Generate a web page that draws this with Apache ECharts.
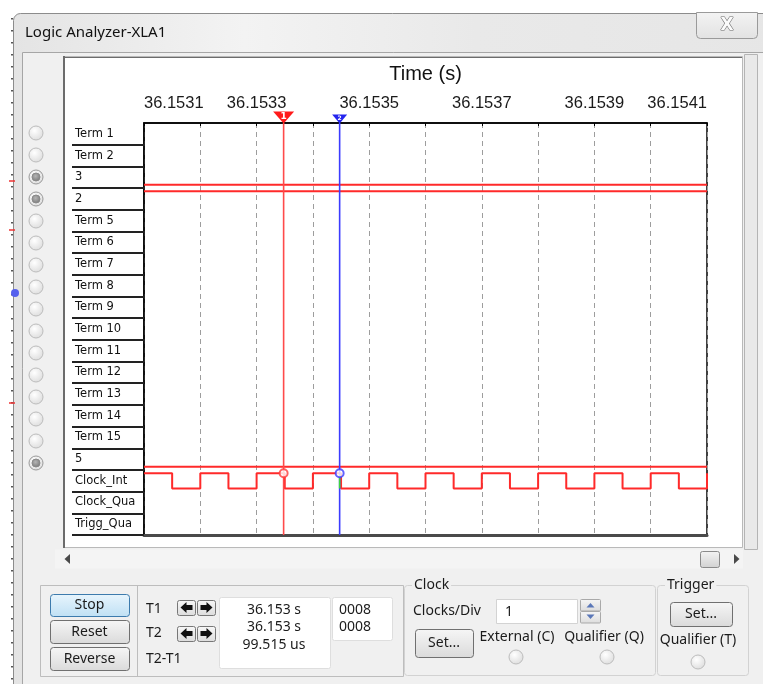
<!DOCTYPE html>
<html>
<head>
<meta charset="utf-8">
<title>Logic Analyzer-XLA1</title>
<script src="https://cdn.jsdelivr.net/npm/echarts@6.0.0/dist/echarts.min.js"></script>
<style>
  html, body { margin: 0; padding: 0; background: #fff; }
  #chart { width: 763px; height: 684px; }
</style>
</head>
<body>
<div id="chart"></div>
<script>
// channel rows, top to bottom
const channels = ['Term 1', 'Term 2', '3', '2', 'Term 5', 'Term 6', 'Term 7', 'Term 8', 'Term 9',
  'Term 10', 'Term 11', 'Term 12', 'Term 13', 'Term 14', 'Term 15', '5', 'Clock_Int', 'Clock_Qua', 'Trigg_Qua'];

// time axis in us after 36.1531 s, one division = 100 us
const timeLabels = ['36.1531', '36.1533', '36.1535', '36.1537', '36.1539', '36.1541'];
const sampleTimes = [0, 50, 100, 150, 200, 250, 300, 350, 400, 450, 500,
  550, 600, 650, 700, 750, 800, 850, 900, 950, 1000];

// logic level at each sample time, held until the next sample
const level3 = [0, 0, 0, 0, 0, 0, 0, 0, 0, 0, 0, 0, 0, 0, 0, 0, 0, 0, 0, 0, 0];
const level2 = [1, 1, 1, 1, 1, 1, 1, 1, 1, 1, 1, 1, 1, 1, 1, 1, 1, 1, 1, 1, 1];
const level5 = [0, 0, 0, 0, 0, 0, 0, 0, 0, 0, 0, 0, 0, 0, 0, 0, 0, 0, 0, 0, 0];
const clockInt = [1, 0, 1, 0, 1, 0, 1, 0, 1, 0, 1, 0, 1, 0, 1, 0, 1, 0, 1, 0, 1];

// cursors (us after 36.1531 s)
const cursorT1 = 248;
const cursorT2 = 347.5;

// readouts
const readTimes = ['36.153 s', '36.153 s', '99.515 us'];
const readHex = ['0008', '0008'];
const clocksPerDiv = '1';

// channel radio buttons (16 of them), true = connected
const radioOn = [false, false, true, true, false, false, false, false, false, false, false, false, false, false, false, true];

const rowOf = name => channels.indexOf(name);
const wave = (name, levels) => levels.map((lv, i) => [sampleTimes[i], rowOf(name) + (lv ? 0.15 : 0.85)]);

const UI = '"Noto Sans", "Open Sans", sans-serif';

function rect(x, y, w, h, fill, stroke, r) {
  return { type: 'rect', silent: true, z: -10, shape: { x, y, width: w, height: h, r: r || 0 },
    style: { fill: fill || 'none', stroke: stroke || 'none', lineWidth: 1 } };
}
function line(x1, y1, x2, y2, color, w, dash) {
  return { type: 'line', silent: true, z: -9, shape: { x1, y1, x2, y2 },
    style: { stroke: color, lineWidth: w || 1, lineDash: dash || null } };
}
function label(x, y, s, opt) {
  const st = Object.assign({ text: s, fill: '#1b1b1b', font: '14px ' + UI,
    align: 'left', verticalAlign: 'middle', textAlign: 'left', textVerticalAlign: 'middle' }, opt || {});
  if (st.align !== 'left') st.textAlign = st.align;
  return { type: 'text', silent: true, z: -5, x, y, style: st };
}
function vgrad(a, b) {
  return { type: 'linear', x: 0, y: 0, x2: 0, y2: 1, colorStops: [{ offset: 0, color: a }, { offset: 1, color: b }] };
}
function button(x, y, w, h, s, blue) {
  const r = rect(x + 0.5, y + 0.5, w, h, blue ? vgrad('#e8f5fd', '#bfe0f4') : vgrad('#f6f6f6', '#dadada'),
    blue ? '#3d7bad' : '#707070', 3);
  return [r, label(x + w / 2, y + h / 2 + 0.5, s, { align: 'center' })];
}
function radio(cx, cy, on) {
  const els = [{ type: 'circle', silent: true, z: -9, shape: { cx, cy, r: 7 },
    style: { fill: { type: 'radial', x: 0.4, y: 0.35, r: 0.75,
      colorStops: [{ offset: 0, color: '#ffffff' }, { offset: 1, color: '#d9d9d9' }] },
      stroke: on ? '#9a9a9a' : '#bcbcbc', lineWidth: 1 } }];
  if (on) {
    els.push({ type: 'circle', silent: true, z: -8, shape: { cx, cy, r: 4 },
      style: { fill: { type: 'radial', x: 0.45, y: 0.4, r: 0.7,
        colorStops: [{ offset: 0, color: '#b5b5b5' }, { offset: 1, color: '#6f6f6f' }] }, stroke: '#8a8a8a' } });
  }
  return els;
}
// dir: -1 points left, 1 points right
function arrowBtn(x, y, dir) {
  const cx = x + 9.5, cy = y + 7.5;
  const s = dir;
  const pts = [[cx + 6 * s, cy], [cx, cy - 5.5], [cx, cy - 2.5], [cx - 6 * s, cy - 2.5],
    [cx - 6 * s, cy + 2.5], [cx, cy + 2.5], [cx, cy + 5.5]];
  return [rect(x + 0.5, y + 0.5, 18, 15, vgrad('#f8f8f8', '#dcdcdc'), '#777', 2),
    { type: 'polygon', silent: true, z: -8, shape: { points: pts }, style: { fill: '#111' } }];
}

const graphics = [];
graphics.push(rect(0, 0, 763, 684, '#fff'));
graphics.push(line(12, 18, 12, 684, '#222', 1.5, [1.5, 10.5]));
// window frame + title bar
graphics.push(Object.assign(rect(13.5, 13.5, 770, 690, {
  type: 'linear', x: 0, y: 0, x2: 1, y2: 0,
  colorStops: [{ offset: 0, color: '#e4e4e4' }, { offset: 0.3, color: '#f3f3f3' }, { offset: 0.6, color: '#e9e9e9' }, { offset: 1, color: '#e6e6e6' }]
}, '#8c8c8c'), { shape: { x: 13.5, y: 13.5, width: 770, height: 690, r: [7, 0, 0, 0] } }));
graphics.push(label(25, 33, 'Logic Analyzer-XLA1', { font: '15px ' + UI, fill: '#111' }));
graphics.push(rect(696.5, 12.5, 61, 26, vgrad('#f3f3f3', '#e2e2e2'), '#9a9a9a', [0, 0, 4, 4]));
graphics.push(label(727, 26, 'X', { align: 'center', font: 'bold 17px "DejaVu Sans"', fill: '#fbfbfb', stroke: '#6a6a6a', lineWidth: 1.1 }));
// client area
graphics.push(rect(22.5, 52.5, 750, 640, '#f0f0f0', '#a6a6a6'));
// waveform panel
graphics.push(rect(63.5, 56.5, 679, 491, '#fff', '#b9b9b9'));
graphics.push(line(64, 56, 64, 548, '#6c6c6c', 2));
graphics.push(line(64, 57.5, 742, 57.5, '#6c6c6c', 1));
graphics.push(rect(744.5, 54.5, 13, 495, '#e9e9e9', '#b4b4b4'));
// horizontal scroll bar
graphics.push(rect(55, 549.5, 688, 19, '#f4f4f4'));
graphics.push({ type: 'polygon', silent: true, z: -8, shape: { points: [[70, 554], [70, 564], [64.5, 559]] }, style: { fill: '#4a4a4a' } });
graphics.push(rect(700.5, 551.5, 19, 16, vgrad('#f4f4f4', '#d2d2d2'), '#8b8b8b', 2));
graphics.push({ type: 'polygon', silent: true, z: -8, shape: { points: [[734, 554], [734, 564], [739.5, 559]] }, style: { fill: '#4a4a4a' } });
// channel radios
radioOn.forEach((on, i) => graphics.push(...radio(36, 133 + i * 22, on)));
// stray schematic marks at the left edge
graphics.push(line(9, 181, 15, 181, '#e33', 1.5), line(9, 230, 15, 230, '#e33', 1.5), line(9, 403, 15, 403, '#e33', 1.5));
graphics.push({ type: 'circle', silent: true, z: -8, shape: { cx: 15, cy: 293, r: 4 }, style: { fill: '#5560ee' } });

// bottom control block: run buttons and cursor readouts
graphics.push(rect(40.5, 585.5, 363, 91, 'none', '#bdbdbd'));
graphics.push(line(137.5, 586, 137.5, 676, '#bdbdbd'));
graphics.push(...button(50, 594, 79, 22, 'Stop', true));
graphics.push(...button(50, 620, 79, 23, 'Reset'));
graphics.push(...button(50, 647, 79, 23, 'Reverse'));
graphics.push(label(146, 609, 'T1'), label(146, 633, 'T2'), label(146, 659, 'T2-T1'));
graphics.push(...arrowBtn(177, 600, -1), ...arrowBtn(197, 600, 1));
graphics.push(...arrowBtn(177, 626, -1), ...arrowBtn(197, 626, 1));
graphics.push(rect(219.5, 597.5, 111, 71, '#fff', '#dedede', 2));
readTimes.forEach((s, i) => graphics.push(label(274, 610 + i * 17.5, s, { align: 'center' })));
graphics.push(rect(332.5, 597.5, 60, 43, '#fff', '#dedede', 2));
readHex.forEach((s, i) => graphics.push(label(339, 610 + i * 17, s)));

// clock group
graphics.push(rect(404.5, 585.5, 251, 90, 'none', '#d2d2d2', 3));
graphics.push(label(412, 585, 'Clock', { backgroundColor: '#f0f0f0', padding: [0, 2] }));
graphics.push(label(413, 611, 'Clocks/Div'));
graphics.push(rect(496.5, 599.5, 81, 24, '#fff', '#d3d3d3'));
graphics.push(label(505, 612, clocksPerDiv));
graphics.push(rect(580.5, 599.5, 20, 11.5, vgrad('#f6f6f6', '#dcdcdc'), '#a9a9a9', 1));
graphics.push(rect(580.5, 611.5, 20, 11.5, vgrad('#f6f6f6', '#dcdcdc'), '#a9a9a9', 1));
graphics.push({ type: 'polygon', silent: true, z: -8, shape: { points: [[586.5, 607.5], [594.5, 607.5], [590.5, 603]] }, style: { fill: '#5a77b8' } });
graphics.push({ type: 'polygon', silent: true, z: -8, shape: { points: [[586.5, 614.5], [594.5, 614.5], [590.5, 619]] }, style: { fill: '#5a77b8' } });
graphics.push(...button(415, 629, 58, 28, 'Set...'));
graphics.push(label(517, 637, 'External (C)', { align: 'center' }), label(604, 637, 'Qualifier (Q)', { align: 'center' }));
graphics.push(...radio(516, 657, false), ...radio(607, 657, false));

// trigger group
graphics.push(rect(657.5, 585.5, 91, 90, 'none', '#d2d2d2', 3));
graphics.push(label(665, 585, 'Trigger', { backgroundColor: '#f0f0f0', padding: [0, 2] }));
graphics.push(...button(670, 602, 62, 24, 'Set...'));
graphics.push(label(698, 640, 'Qualifier (T)', { align: 'center' }));
graphics.push(...radio(698, 662, false));

const sigStyle = { color: '#ff2a2a', width: 2 };
function sigSeries(name, levels) {
  return { name, type: 'line', xAxisIndex: 0, yAxisIndex: 1, step: 'end', symbol: 'none',
    data: wave(name, levels), lineStyle: sigStyle, itemStyle: { color: sigStyle.color }, silent: true, z: 3 };
}
function cursorSeries(t, color) {
  return { type: 'line', xAxisIndex: 0, yAxisIndex: 1, symbol: 'none', silent: true, z: 4,
    data: [[t, 0], [t, channels.length]], lineStyle: { color, width: 1.6 } };
}
// cursor flag drawn above the top axis line
function flagSeries(t, color, num, w, h) {
  return { type: 'custom', xAxisIndex: 0, yAxisIndex: 1, silent: true, z: 6, clip: false,
    data: [[t, 0]],
    renderItem: (params, api) => {
      const p = api.coord([api.value(0), api.value(1)]);
      return { type: 'group', children: [
        { type: 'polygon', shape: { points: [[p[0] - w / 2, p[1] - h - 0.5], [p[0] + w / 2, p[1] - h - 0.5], [p[0], p[1] + 0.5]] },
          style: { fill: color } },
        { type: 'text', style: { text: num, x: p[0], y: p[1] - h * 0.6, fill: '#fff',
          font: 'bold ' + (h - 2) + 'px "DejaVu Sans"', align: 'center', verticalAlign: 'middle',
          textAlign: 'center', textVerticalAlign: 'middle' } }
      ] };
    } };
}
function ringSeries(t, color) {
  return { type: 'scatter', xAxisIndex: 0, yAxisIndex: 1, silent: true, z: 6, clip: false,
    symbol: 'emptyCircle', symbolSize: 8, data: [[t, rowOf('Clock_Int') + 0.15]],
    itemStyle: { color, borderColor: color, borderWidth: 1.4 } };
}

const chart = echarts.init(document.getElementById('chart'), null, { renderer: 'canvas' });
chart.setOption({
  animation: false,
  backgroundColor: '#fff',
  graphic: { elements: graphics },
  grid: { left: 144, top: 123, width: 563, height: 412, show: true, borderColor: '#000', borderWidth: 1.5, backgroundColor: 'transparent' },
  xAxis: [{
    type: 'value', position: 'top', min: 0, max: 1000, interval: 100,
    name: 'Time (s)', nameLocation: 'middle', nameGap: 39,
    nameTextStyle: { fontSize: 20, fontFamily: 'Liberation Sans', color: '#111' },
    axisLine: { show: true, lineStyle: { color: '#000', width: 1.5 } },
    axisTick: { show: true, inside: true, length: 3, lineStyle: { color: '#000' } },
    axisLabel: {
      margin: 11, fontSize: 16.5, fontFamily: 'Liberation Sans', color: '#1a1a1a',
      showMinLabel: true, showMaxLabel: true, alignMinLabel: 'left', alignMaxLabel: 'right',
      formatter: v => (Math.round(v) % 200 === 0 ? timeLabels[Math.round(v) / 200] : '')
    },
    splitLine: { show: true, lineStyle: { color: '#9d9d9d', width: 1, type: [5, 4] } }
  }, {
    type: 'value', position: 'bottom', min: 0, max: 1000,
    axisLine: { show: true, lineStyle: { color: '#4a4a4a', width: 3 } },
    axisTick: { show: false }, axisLabel: { show: false }, splitLine: { show: false }
  }],
  yAxis: [{
    type: 'category', data: channels, inverse: true, position: 'left',
    axisLine: { show: true, lineStyle: { color: '#000', width: 1.5 } },
    axisTick: { show: true, length: 72, interval: i => i > 0, lineStyle: { color: '#222', width: 2 } },
    axisLabel: { align: 'left', margin: 69, fontFamily: 'DejaVu Sans', fontSize: 11.5, color: '#111', interval: 0,
      padding: [5, 0, 0, 0] },
    splitLine: { show: false }
  }, {
    type: 'value', min: 0, max: channels.length, inverse: true, show: false
  }],
  series: [
    sigSeries('3', level3),
    sigSeries('2', level2),
    sigSeries('5', level5),
    sigSeries('Clock_Int', clockInt),
    cursorSeries(cursorT1, '#ff4a4a'),
    cursorSeries(cursorT2, '#3b3bff'),
    { type: 'line', xAxisIndex: 0, yAxisIndex: 1, symbol: 'none', silent: true, z: 5,
      data: [[cursorT2, rowOf('Clock_Int') + 0.22], [cursorT2, rowOf('Clock_Int') + 0.85]],
      lineStyle: { color: '#3fd43f', width: 1.6 } },
    ringSeries(cursorT1, '#ff3a3a'),
    ringSeries(cursorT2, '#3b3bff'),
    flagSeries(cursorT1, '#ff1a1a', '1', 21, 11),
    flagSeries(cursorT2, '#2424ee', '2', 15, 8)
  ]
});
</script>
</body>
</html>
